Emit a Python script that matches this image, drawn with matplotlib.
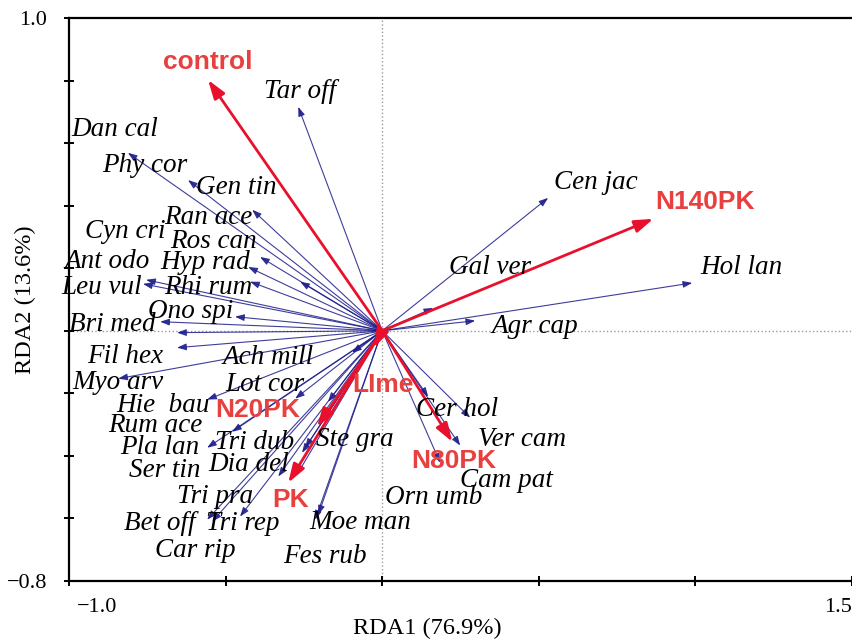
import matplotlib
matplotlib.use('Agg')
import matplotlib.pyplot as plt
from matplotlib.transforms import ScaledTranslation

# species scores (arrow tips) on RDA1 / RDA2
species = ['Tar off', 'Dan cal', 'Phy cor', 'Gen tin', 'Ran ace', 'Ros can',
           'Hyp rad', 'Rhi rum', 'Leu vul', 'Ant odo', 'Ono spi', 'Bri med',
           'Cyn cri', 'Fil hex', 'Myo arv', 'Ach mill', 'Lot cor', 'Hie  bau',
           'Rum ace', 'Pla lan', 'Tri dub', 'Ste gra', 'Dia del', 'Ser tin',
           'Tri pra', 'Bet off', 'Car rip', 'Tri rep', 'Moe man', 'Fes rub',
           'Cer hol', 'Ver cam', 'Cam pat', 'Orn umb', 'Agr cap', 'Hol lan',
           'Gal ver', 'Cen jac']
sp_x = [-0.268, -0.812, -0.620, -0.415, -0.390, -0.428,
        -0.422, -0.262, -0.764, -0.754, -0.470, -0.709,
        -0.655, -0.655, -0.843, -0.096, -0.278, -0.559,
        -0.479, -0.559, -0.246, -0.173, -0.332, -0.256,
        -0.272, -0.559, -0.543, -0.454, -0.214, -0.204,
        0.147, 0.281, 0.249, 0.185, 0.297, 0.990,
        0.163, 0.530]
sp_y = [0.716, 0.569, 0.482, 0.387, 0.236, 0.204,
        0.157, 0.157, 0.150, 0.163, 0.045, 0.029,
        -0.006, -0.054, -0.153, -0.070, -0.217, -0.220,
        -0.323, -0.374, -0.374, -0.227, -0.466, -0.390,
        -0.460, -0.604, -0.610, -0.594, -0.604, -0.588,
        -0.211, -0.278, -0.367, -0.422, 0.032, 0.153,
        0.073, 0.425]
# where each species name is written
sp_label_x = [-0.262, -0.853, -0.757, -0.466, -0.556, -0.540,
              -0.565, -0.556, -0.895, -0.879, -0.613, -0.863,
              -0.821, -0.821, -0.843, -0.364, -0.374, -0.700,
              -0.725, -0.709, -0.406, -0.086, -0.428, -0.693,
              -0.534, -0.709, -0.597, -0.444, -0.070, -0.182,
              0.240, 0.447, 0.396, 0.163, 0.489, 1.147,
              0.345, 0.681]
sp_label_y = [0.764, 0.642, 0.530, 0.457, 0.361, 0.284,
              0.217, 0.137, 0.137, 0.220, 0.061, 0.019,
              0.316, -0.083, -0.166, -0.086, -0.173, -0.240,
              -0.304, -0.374, -0.358, -0.348, -0.428, -0.447,
              -0.530, -0.617, -0.703, -0.617, -0.613, -0.722,
              -0.252, -0.348, -0.479, -0.534, 0.013, 0.201,
              0.201, 0.473]

# treatment vectors
treatments = ['control', 'N140PK', 'LIme', 'N20PK', 'N80PK', 'PK']
tr_x = [-0.556, 0.866, -0.026, -0.208, 0.224, -0.300]
tr_y = [0.802, 0.358, -0.054, -0.307, -0.355, -0.486]
tr_label_x = [-0.556, 1.032, 0.003, -0.396, 0.227, -0.294]
tr_label_y = [0.859, 0.412, -0.173, -0.252, -0.415, -0.540]

blue = '#1c1c8a'
red = '#e8112d'
red_text = '#e8403e'

fig = plt.figure(figsize=(8.52, 6.41), dpi=100)
ax = fig.add_axes([69 / 852, 1 - 581 / 641, 783 / 852, 563 / 641])
ax.set_xlim(-1.0, 1.5)
ax.set_ylim(-0.8, 1.0)

ax.axhline(0, color='#9a9a9a', lw=1, ls=':', zorder=0)
ax.axvline(0, color='#9a9a9a', lw=1, ls=':', zorder=0)

for x, y in zip(sp_x, sp_y):
    ax.annotate('', xy=(x, y), xytext=(0, 0),
                arrowprops=dict(arrowstyle='-|>,head_length=0.55,head_width=0.2',
                                color=blue, lw=0.8, alpha=0.85,
                                shrinkA=0, shrinkB=0, mutation_scale=10))
for name, lx, ly in zip(species, sp_label_x, sp_label_y):
    ax.text(lx, ly, name, family='Liberation Serif', style='italic',
            fontsize=19.5, ha='center', va='center', color='black', zorder=5)

for x, y in zip(tr_x, tr_y):
    ax.annotate('', xy=(x, y), xytext=(0, 0),
                arrowprops=dict(arrowstyle='-|>,head_length=0.75,head_width=0.25',
                                color=red, lw=2, shrinkA=0, shrinkB=0,
                                mutation_scale=15), zorder=4)
for name, lx, ly in zip(treatments, tr_label_x, tr_label_y):
    ax.text(lx, ly, name, family='Liberation Sans', fontweight='bold',
            fontsize=19, ha='center', va='center', color=red_text, zorder=6)

for side in ['left', 'bottom', 'top']:
    ax.spines[side].set_linewidth(1.6)
ax.spines['right'].set_visible(False)

ax.set_xticks([-1.0, -0.5, 0.0, 0.5, 1.0, 1.5])
ax.set_xticklabels(['\u22121.0', '', '', '', '', '1.5'])
ax.set_yticks([-0.8, -0.6, -0.4, -0.2, 0.0, 0.2, 0.4, 0.6, 0.8, 1.0])
ax.set_yticklabels(['\u22120.8', '', '', '', '', '', '', '', '', '1.0'])
ax.tick_params(direction='inout', length=7, width=1.4, labelsize=16, pad=9)
ax.tick_params(axis='y', pad=12)
for lab in ax.get_xticklabels() + ax.get_yticklabels():
    lab.set_family('Liberation Serif')
xl = ax.get_xticklabels()
xl[0].set_ha('left')
xl[0].set_transform(xl[0].get_transform() + ScaledTranslation(0.08, 0, fig.dpi_scale_trans))
xl[-1].set_ha('right')

fig.text(427 / 852, 1 - 628 / 641, 'RDA1 (76.9%)', family='Liberation Serif',
         fontsize=17.5, ha='center', va='center')
fig.text(25 / 852, 1 - 300 / 641, 'RDA2 (13.6%)', family='Liberation Serif',
         fontsize=17.5, ha='center', va='center', rotation=90)

fig.savefig('out.png', dpi=100)
